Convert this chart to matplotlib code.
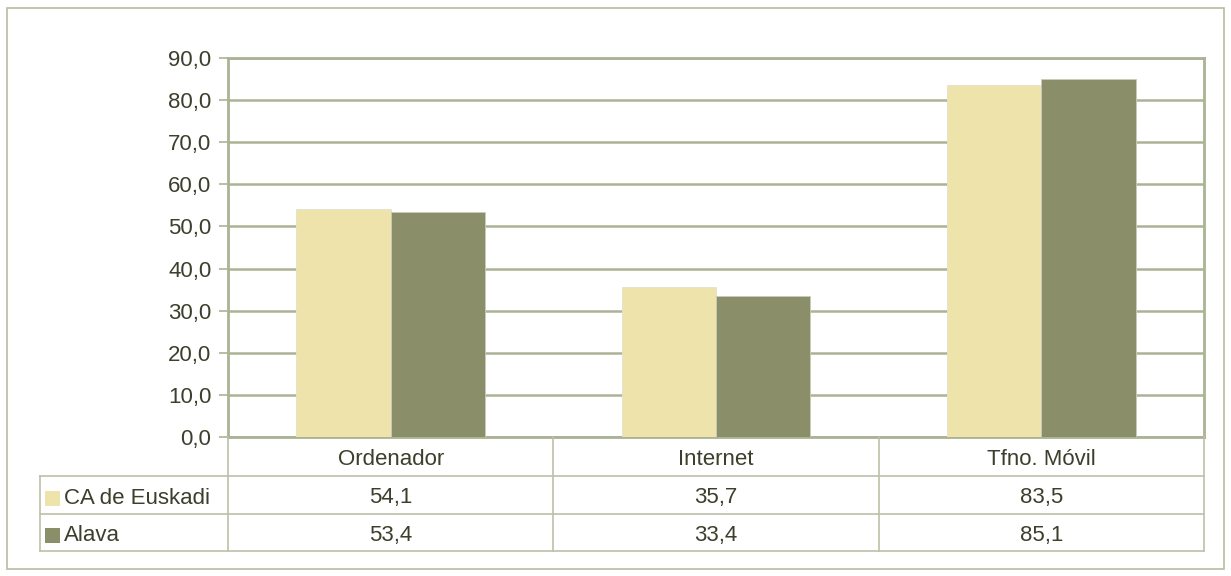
import matplotlib
matplotlib.use("Agg")
import matplotlib.pyplot as plt
from matplotlib.lines import Line2D
from matplotlib.patches import Rectangle
from matplotlib.transforms import blended_transform_factory

# Datos
categorias = ["Ordenador", "Internet", "Tfno. Móvil"]
series = ["CA de Euskadi", "Alava"]
euskadi = [54.1, 35.7, 83.5]
alava = [53.4, 33.4, 85.1]
colores = ["#EFE3AC", "#8A8F69"]
yticks = [0, 10, 20, 30, 40, 50, 60, 70, 80, 90]

W, H = 1231, 576
TXT = "#3B3F2B"
GRID = "#AAB394"
plt.rcParams["font.family"] = ["Liberation Sans", "DejaVu Sans"]


def fx(px):
    return px / W


def fy(py):
    return 1 - py / H


fig = plt.figure(figsize=(W / 100, H / 100), dpi=100)

# marco exterior
fig.add_artist(Rectangle((fx(7), fy(569)), fx(1224) - fx(7), fy(8) - fy(569),
                         transform=fig.transFigure, fill=False,
                         edgecolor="#B7BCA2", linewidth=1.2))

ax = fig.add_axes([fx(228), fy(437), fx(1204) - fx(228), fy(58) - fy(437)])

x = list(range(len(categorias)))
ancho = 0.29
ax.bar([i - ancho / 2 for i in x], euskadi, width=ancho, color=colores[0],
       edgecolor="#E4E1CC", linewidth=0.6, zorder=3)
ax.bar([i + ancho / 2 for i in x], alava, width=ancho, color=colores[1],
       edgecolor="#C9CCBA", linewidth=0.6, zorder=3)

fs = 16
ax.set_xlim(-0.5, len(categorias) - 0.5)
ax.set_ylim(0, 90)
ax.set_yticks(yticks)
ax.set_yticklabels([f"{v:.1f}".replace(".", ",") for v in yticks])
ax.set_xticks([])
ax.yaxis.grid(True, color=GRID, linewidth=1.8, zorder=0)
ax.tick_params(axis="y", colors=GRID, labelcolor=TXT, labelsize=fs,
               length=6.5, width=1.2, pad=5.5)
for s in ax.spines.values():
    s.set_color(GRID)
    s.set_linewidth(2)

# tabla de datos
tr = blended_transform_factory(ax.transData, fig.transFigure)
filas_y = [437, 476, 514, 551]
lc = "#BCC1A8"
# lineas horizontales
for py in filas_y[1:]:
    fig.add_artist(Line2D([fx(40), fx(1204)], [fy(py), fy(py)],
                          transform=fig.transFigure, color=lc, linewidth=1.2))
# lineas verticales
for b in [i - 0.5 for i in range(len(categorias) + 1)]:
    fig.add_artist(Line2D([b, b], [fy(437), fy(551)], transform=tr,
                          color=lc, linewidth=1.2))
fig.add_artist(Line2D([fx(40), fx(40)], [fy(476), fy(551)],
                      transform=fig.transFigure, color=lc, linewidth=1.2))

dy = 3 / H  # el texto queda un poco por debajo del centro de la fila
for i, c in enumerate(categorias):
    fig.text(i, fy((437 + 476) / 2) - dy, c, transform=tr, ha="center",
             va="center", fontsize=fs, color=TXT)
valores = [euskadi, alava]
for r, (nombre, vals) in enumerate(zip(series, valores)):
    yc = fy((filas_y[r + 1] + filas_y[r + 2]) / 2) - dy
    fig.add_artist(Rectangle((fx(45), yc - 7.5 / H), 15 / W, 15 / H,
                             transform=fig.transFigure, facecolor=colores[r],
                             edgecolor="none"))
    fig.text(fx(64), yc, nombre, ha="left", va="center", fontsize=fs,
             color=TXT)
    for i, v in enumerate(vals):
        fig.text(i, yc, f"{v:.1f}".replace(".", ","), transform=tr,
                 ha="center", va="center", fontsize=fs, color=TXT)

fig.savefig("out.png", dpi=100)
